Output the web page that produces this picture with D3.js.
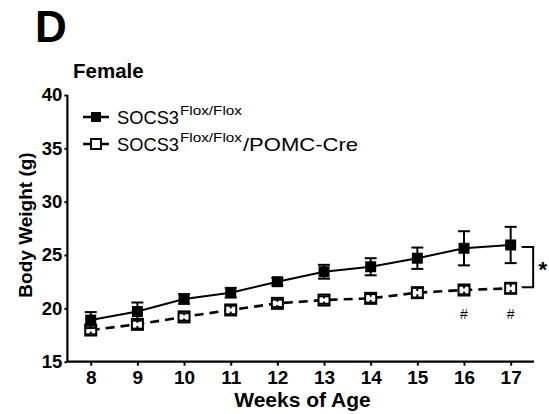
<!DOCTYPE html>
<html><head><meta charset="utf-8">
<script src="https://cdn.jsdelivr.net/npm/d3@7"></script>
<style>body{margin:0;background:#fff}svg{display:block}text{font-family:"Liberation Sans",Arial,sans-serif;fill:#000}</style>
</head><body><div id="chart"></div>
<script>
const weeks = [8, 9, 10, 11, 12, 13, 14, 15, 16, 17];
const floxMean = [18.9, 19.7, 20.88, 21.47, 22.5, 23.43, 23.9, 24.7, 25.63, 25.94];
const floxErr = [0.75, 0.85, 0.45, 0.45, 0.35, 0.65, 0.8, 1.0, 1.6, 1.7];
const pomcMean = [17.97, 18.5, 19.2, 19.85, 20.47, 20.78, 20.94, 21.47, 21.72, 21.88];
const pomcErr = [0.4, 0.4, 0.35, 0.4, 0.35, 0.35, 0.4, 0.45, 0.4, 0.45];
const yTicks = [15, 20, 25, 30, 35, 40];
const hashWeeks = [16, 17];
const seriesNames = ["SOCS3", "Flox/Flox", "/POMC-Cre"];

const W = 549, H = 414;
const svg = d3.select("#chart").append("svg").attr("width", W).attr("height", H);
const x = d3.scaleLinear().domain([7.5, 17.5]).range([67.4, 534]);
const y = d3.scaleLinear().domain([15, 40]).range([361.7, 95]);

// Title texts
svg.append("text").attr("x", 35).attr("y", 42).attr("font-size", 44).attr("font-weight", "bold").text("D");
svg.append("text").attr("x", 73).attr("y", 78).attr("font-size", 20.5).attr("font-weight", "bold").text("Female");

// Axes
const yAxis = d3.axisLeft(y).tickValues(yTicks).tickSize(3).tickPadding(2).tickFormat(d3.format("d"));
const gy = svg.append("g").attr("transform", `translate(${x.range()[0]},0)`).call(yAxis);
const xAxis = d3.axisBottom(x).tickValues(weeks).tickSize(4).tickPadding(5).tickFormat(d3.format("d"));
const gx = svg.append("g").attr("transform", `translate(0,${y(15)})`).call(xAxis);
[gy, gx].forEach(g => {
  g.select(".domain").attr("stroke", "#000").attr("stroke-width", 2.2);
  g.selectAll(".tick line").attr("stroke", "#000").attr("stroke-width", 2);
  g.selectAll(".tick text").attr("font-family", '"Liberation Sans",Arial,sans-serif')
    .attr("font-weight", "bold").attr("fill", "#000");
});
gy.selectAll(".tick text").attr("font-size", 18.5);
gx.selectAll(".tick text").attr("font-size", 19);
gy.select(".domain").attr("d", `M0,${y(40)}V${y(15)}`);
gx.select(".domain").attr("d", `M${x.range()[0]},0H${x.range()[1]}`);

// Axis titles
svg.append("text").attr("transform", `translate(32,225) rotate(-90)`).attr("text-anchor", "middle")
  .attr("font-size", 19).attr("font-weight", "bold").text("Body Weight (g)");
svg.append("text").attr("x", 302.5).attr("y", 407).attr("text-anchor", "middle")
  .attr("font-size", 21).attr("font-weight", "bold").text("Weeks of Age");

function drawSeries(mean, err, filled, dashed) {
  const data = weeks.map((w, i) => ({w, m: mean[i], e: err[i]}));
  const g = svg.append("g");
  g.append("path").datum(data)
    .attr("d", d3.line().x(d => x(d.w)).y(d => y(d.m)))
    .attr("fill", "none").attr("stroke", "#000").attr("stroke-width", dashed ? 2.6 : 2)
    .attr("stroke-dasharray", dashed ? "9,6" : null);
  g.selectAll(".mk").data(data).enter().append("rect")
    .attr("x", d => x(d.w) - 5.5).attr("y", d => y(d.m) - 5.5).attr("width", 11).attr("height", 11)
    .attr("fill", filled ? "#000" : "#fff").attr("stroke", "#000").attr("stroke-width", filled ? 0 : 2);
  const eb = g.selectAll(".eb").data(data).enter().append("g");
  eb.append("line").attr("x1", d => x(d.w)).attr("x2", d => x(d.w))
    .attr("y1", d => y(d.m + d.e)).attr("y2", d => y(d.m + (filled ? 0.3 : 0.15)))
    .attr("stroke", "#000").attr("stroke-width", 2);
  eb.append("line").attr("x1", d => x(d.w)).attr("x2", d => x(d.w))
    .attr("y1", d => y(d.m - (filled ? 0.3 : 0.15))).attr("y2", d => y(d.m - d.e))
    .attr("stroke", "#000").attr("stroke-width", 2);
  [1, -1].forEach(s => {
    eb.append("line").attr("x1", d => x(d.w) - 6).attr("x2", d => x(d.w) + 6)
      .attr("y1", d => y(d.m + s * d.e)).attr("y2", d => y(d.m + s * d.e)).attr("stroke", "#000").attr("stroke-width", 2);
  });
}
drawSeries(pomcMean, pomcErr, false, true);
drawSeries(floxMean, floxErr, true, false);

// Significance bracket
const last = weeks.length - 1;
const bx0 = x(17) + 11, bx1 = x(17) + 22.5;
svg.append("path")
  .attr("d", `M${bx0},${y(floxMean[last]) + 2}H${bx1}V${y(pomcMean[last]) - 1}H${bx0}`)
  .attr("fill", "none").attr("stroke", "#000").attr("stroke-width", 2);
svg.append("text").attr("x", bx1 + 9.5).attr("y", (y(floxMean[last]) + y(pomcMean[last])) / 2 + 10)
  .attr("text-anchor", "middle").attr("font-size", 22).attr("font-weight", "bold").text("*");
svg.selectAll(".hash").data(hashWeeks).enter().append("text")
  .attr("x", d => x(d)).attr("y", 319).attr("text-anchor", "middle").attr("font-size", 14).text("#");

// Legend
const legRows = [{y: 124, filled: true, extra: ""}, {y: 151, filled: false, extra: seriesNames[2]}];
legRows.forEach(r => {
  const cy = r.y - 7;
  svg.append("line").attr("x1", 83).attr("x2", 109).attr("y1", cy).attr("y2", cy)
    .attr("stroke", "#000").attr("stroke-width", 2.5);
  svg.append("rect").attr("x", 91).attr("y", cy - 5).attr("width", 10).attr("height", 10)
    .attr("fill", r.filled ? "#000" : "#fff").attr("stroke", "#000").attr("stroke-width", r.filled ? 0 : 2);
  svg.append("text").attr("x", 117).attr("y", r.y).attr("font-size", 18.5)
    .attr("textLength", 62).attr("lengthAdjust", "spacingAndGlyphs").text(seriesNames[0]);
  svg.append("text").attr("x", 180).attr("y", r.y - 9).attr("font-size", 13.5)
    .attr("textLength", 62).attr("lengthAdjust", "spacingAndGlyphs").text(seriesNames[1]);
  if (r.extra) svg.append("text").attr("x", 243).attr("y", r.y).attr("font-size", 18.5)
    .attr("textLength", 115).attr("lengthAdjust", "spacingAndGlyphs").text(r.extra);
});
</script></body></html>
